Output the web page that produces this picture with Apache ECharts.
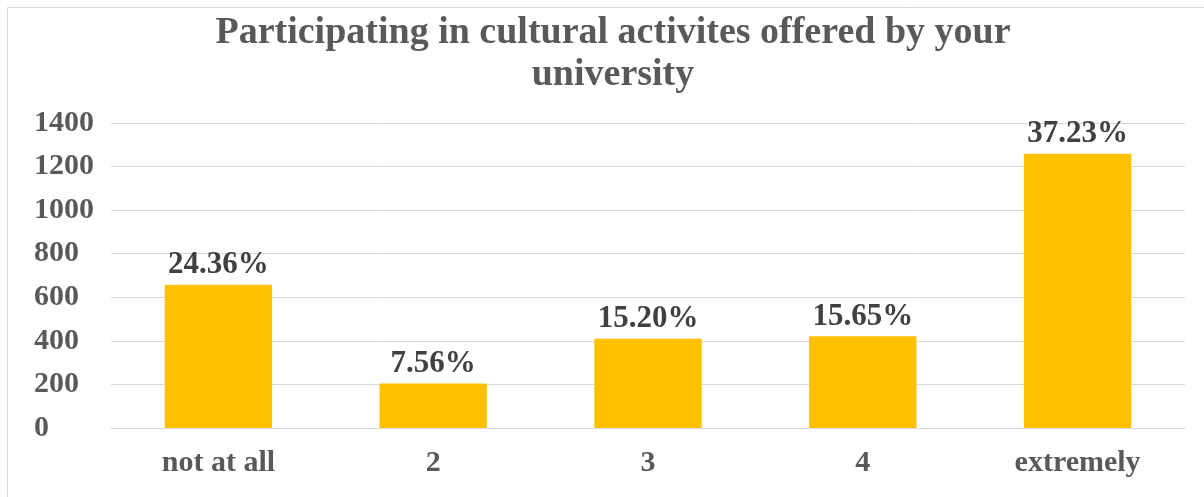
<!DOCTYPE html>
<html><head><meta charset="utf-8">
<script src="https://cdn.jsdelivr.net/npm/echarts@6/dist/echarts.min.js"></script>
<style>html,body{margin:0;padding:0;background:#fff;}#c{width:1204px;height:497px;}</style>
</head><body><div id="c"></div>
<script>
const categories = ['not at all', '2', '3', '4', 'extremely'];
const counts = [658, 204, 410, 421, 1259];
const percentLabels = ['24.36%', '7.56%', '15.20%', '15.65%', '37.23%'];
const yTicks = [0, 200, 400, 600, 800, 1000, 1200, 1400];

const font = '"Liberation Serif", "Times New Roman", serif';
const chart = echarts.init(document.getElementById('c'));
chart.setOption({
  animation: false,
  backgroundColor: '#fff',
  title: {
    text: 'Participating in cultural activites offered by your\nuniversity',
    left: 608, top: 7, textAlign: 'center',
    textStyle: { fontFamily: font, fontWeight: 'bold', fontSize: 38, color: '#595959', lineHeight: 42 }
  },
  graphic: [{ type: 'rect', shape: { x: 7.5, y: 7.5, width: 1300, height: 600 },
    style: { fill: 'none', stroke: '#d9d9d9', lineWidth: 1 }, silent: true }],
  grid: { left: 111, right: 19, top: 123, bottom: 69, containLabel: false },
  xAxis: {
    type: 'category', data: categories,
    axisLine: { lineStyle: { color: '#d9d9d9', width: 1 } },
    axisTick: { show: false },
    axisLabel: { fontFamily: font, fontWeight: 'bold', fontSize: 30, color: '#595959', margin: 20 }
  },
  yAxis: {
    type: 'value', min: yTicks[0], max: yTicks[yTicks.length - 1], interval: 200,
    axisLine: { show: false }, axisTick: { show: false },
    splitLine: { lineStyle: { color: '#d9d9d9', width: 1 } },
    axisLabel: { fontFamily: font, fontWeight: 'bold', fontSize: 30, color: '#595959', align: 'left', margin: 77,
      formatter: v => String(v) }
  },
  series: [{
    type: 'bar', data: counts, barWidth: '50%',
    itemStyle: { color: '#FFC000' },
    label: {
      show: true, position: 'top', distance: 4,
      fontFamily: font, fontWeight: 'bold', fontSize: 31, color: '#404040',
      formatter: p => percentLabels[p.dataIndex]
    }
  }]
});
</script></body></html>
